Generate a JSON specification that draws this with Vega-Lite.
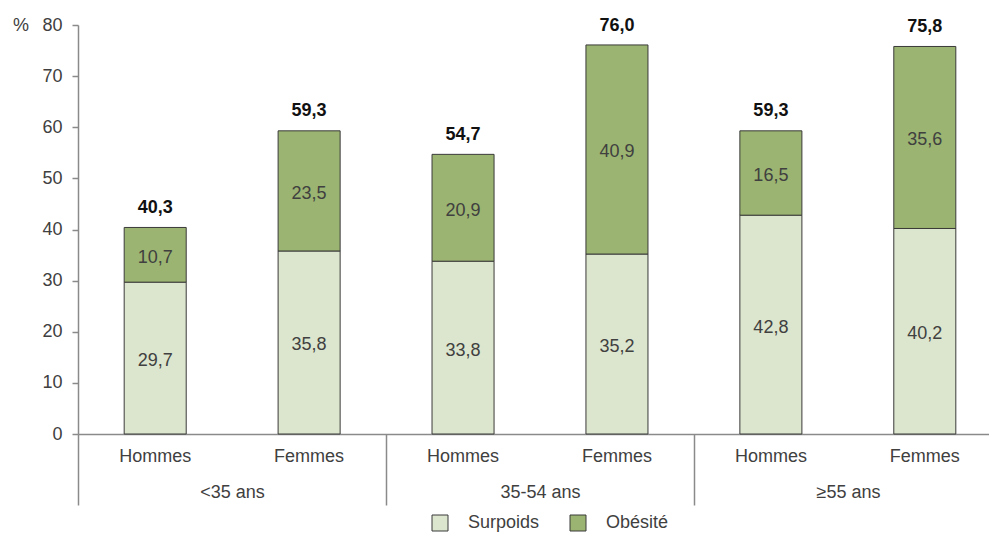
{
  "$schema": "https://vega.github.io/schema/vega-lite/v6.json",
  "width": 911,
  "height": 409,
  "autosize": {"type": "none"},
  "padding": {"left": 78, "top": 25, "right": 0, "bottom": 107},
  "background": "white",
  "config": {
    "view": {"stroke": null},
    "font": "Liberation Sans",
    "locale": {"number": {"decimal": ",", "thousands": "\u00a0", "grouping": [3], "currency": ["", " €"]}},
    "axis": {"labelFont": "Liberation Sans", "titleFont": "Liberation Sans", "grid": false}
  },
  "datasets": {
    "segments": [
      {"key": "Hommes|<35 ans", "group": "<35 ans", "type": "Surpoids", "rank": 1, "value": 29.7},
      {"key": "Hommes|<35 ans", "group": "<35 ans", "type": "Obésité", "rank": 2, "value": 10.7},
      {"key": "Femmes|<35 ans", "group": "<35 ans", "type": "Surpoids", "rank": 1, "value": 35.8},
      {"key": "Femmes|<35 ans", "group": "<35 ans", "type": "Obésité", "rank": 2, "value": 23.5},
      {"key": "Hommes|35-54 ans", "group": "35-54 ans", "type": "Surpoids", "rank": 1, "value": 33.8},
      {"key": "Hommes|35-54 ans", "group": "35-54 ans", "type": "Obésité", "rank": 2, "value": 20.9},
      {"key": "Femmes|35-54 ans", "group": "35-54 ans", "type": "Surpoids", "rank": 1, "value": 35.2},
      {"key": "Femmes|35-54 ans", "group": "35-54 ans", "type": "Obésité", "rank": 2, "value": 40.9},
      {"key": "Hommes|≥55 ans", "group": "≥55 ans", "type": "Surpoids", "rank": 1, "value": 42.8},
      {"key": "Hommes|≥55 ans", "group": "≥55 ans", "type": "Obésité", "rank": 2, "value": 16.5},
      {"key": "Femmes|≥55 ans", "group": "≥55 ans", "type": "Surpoids", "rank": 1, "value": 40.2},
      {"key": "Femmes|≥55 ans", "group": "≥55 ans", "type": "Obésité", "rank": 2, "value": 35.6}
    ],
    "totals": [
      {"key": "Hommes|<35 ans", "total": 40.3},
      {"key": "Femmes|<35 ans", "total": 59.3},
      {"key": "Hommes|35-54 ans", "total": 54.7},
      {"key": "Femmes|35-54 ans", "total": 76.0},
      {"key": "Hommes|≥55 ans", "total": 59.3},
      {"key": "Femmes|≥55 ans", "total": 75.8}
    ],
    "groups": [
      {"group": "<35 ans"},
      {"group": "35-54 ans"},
      {"group": "≥55 ans"}
    ]
  },
  "layer": [
    {
      "encoding": {
        "x": {
          "field": "key",
          "type": "nominal",
          "sort": ["Hommes|<35 ans", "Femmes|<35 ans", "Hommes|35-54 ans", "Femmes|35-54 ans", "Hommes|≥55 ans", "Femmes|≥55 ans"],
          "scale": {"range": [0, 924], "paddingInner": 0.597, "paddingOuter": 0.3},
          "axis": {
            "title": null,
            "labelExpr": "split(datum.label, '|')[0]",
            "labelAngle": 0,
            "ticks": false,
            "domainColor": "#8a8a8a",
            "domainWidth": 1.5,
            "labelPadding": 13.5,
            "labelFontSize": 18,
            "labelColor": "#404040"
          }
        }
      },
      "layer": [
        {
          "data": {"name": "segments"},
          "transform": [
            {"stack": "value", "groupby": ["key"], "sort": [{"field": "rank", "order": "ascending"}], "as": ["v0", "v1"]},
            {"calculate": "(datum.v0 + datum.v1) / 2", "as": "mid"}
          ],
          "layer": [
            {
              "mark": {"type": "bar", "stroke": "#3a3a3a", "strokeWidth": 1},
              "encoding": {
                "y": {
                  "field": "v0",
                  "type": "quantitative",
                  "scale": {"domain": [0, 80], "nice": false},
                  "axis": {
                    "values": [0, 10, 20, 30, 40, 50, 60, 70, 80],
                    "title": "%",
                    "titleAngle": 0,
                    "titleX": -57.5,
                    "titleY": 0,
                    "titleAlign": "center",
                    "titleBaseline": "middle",
                    "titleFontSize": 18,
                    "titleFontWeight": "normal",
                    "titleColor": "#404040",
                    "labelFontSize": 18,
                    "labelColor": "#404040",
                    "labelPadding": 10,
                    "tickSize": 6,
                    "tickColor": "#8a8a8a",
                    "tickWidth": 1.5,
                    "domainColor": "#8a8a8a",
                    "domainWidth": 1.5
                  }
                },
                "y2": {"field": "v1"},
                "color": {
                  "field": "type",
                  "type": "nominal",
                  "scale": {"domain": ["Surpoids", "Obésité"], "range": ["#dce5cd", "#9bb471"]},
                  "legend": {
                    "title": null,
                    "orient": "none",
                    "direction": "horizontal",
                    "legendX": 353,
                    "legendY": 489,
                    "padding": 0,
                    "symbolType": "square",
                    "symbolSize": 256,
                    "symbolStrokeColor": "#3a3a3a",
                    "symbolStrokeWidth": 1,
                    "labelFontSize": 18,
                    "labelColor": "#404040",
                    "labelFont": "Liberation Sans",
                    "labelOffset": 19,
                    "columnPadding": 28
                  }
                }
              }
            },
            {
              "mark": {"type": "text", "fontSize": 18, "color": "#404040", "baseline": "middle", "dy": 3},
              "encoding": {
                "y": {"field": "mid", "type": "quantitative"},
                "text": {"field": "value", "type": "quantitative", "format": ".1f"}
              }
            }
          ]
        },
        {
          "data": {"name": "totals"},
          "mark": {"type": "text", "fontSize": 18, "fontWeight": "bold", "color": "#111111", "baseline": "alphabetic", "dy": -14.5},
          "encoding": {
            "y": {"field": "total", "type": "quantitative"},
            "text": {"field": "total", "type": "quantitative", "format": ".1f"}
          }
        }
      ]
    },
    {
      "data": {"name": "groups"},
      "mark": {"type": "text", "text": ""},
      "encoding": {
        "x": {
          "field": "group",
          "type": "nominal",
          "sort": ["<35 ans", "35-54 ans", "≥55 ans"],
          "scale": {"range": [0, 924], "paddingInner": 0, "paddingOuter": 0},
          "axis": {
            "orient": "bottom",
            "title": null,
            "labelAngle": 0,
            "domain": false,
            "tickBand": "extent",
            "tickSize": 71,
            "tickColor": "#8a8a8a",
            "tickWidth": 1.5,
            "labelPadding": -21.3,
            "labelFontSize": 18,
            "labelColor": "#404040"
          }
        }
      }
    }
  ],
  "resolve": {"scale": {"x": "independent"}, "axis": {"x": "independent"}}
}
